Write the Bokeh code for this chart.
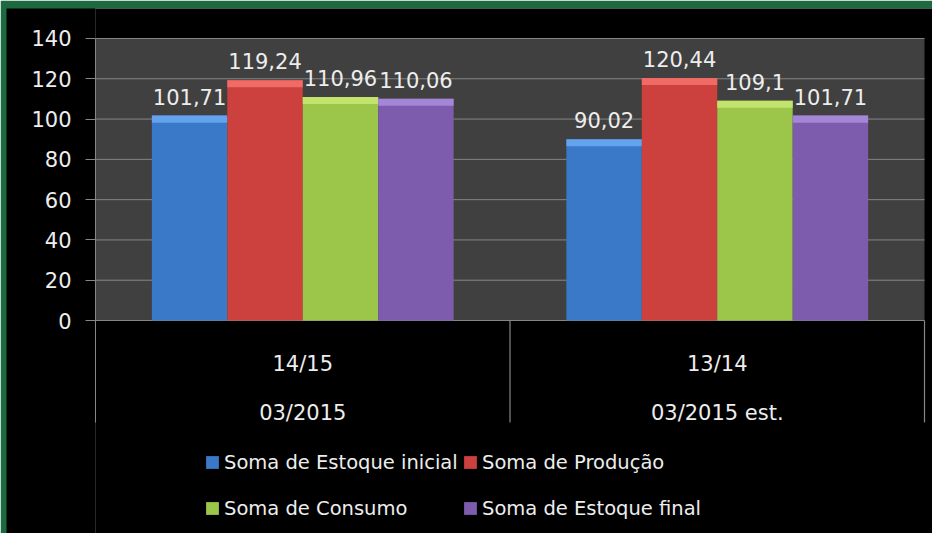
import numpy as np
from bokeh.plotting import figure
from bokeh.models import Range1d, FixedTicker, BoxAnnotation, ColumnDataSource, Legend, LegendItem
from bokeh.core.properties import value
from bokeh.embed import file_html
from bokeh.resources import INLINE

# ---- data ----
periods = ["14/15", "13/14"]
dates = ["03/2015", "03/2015 est."]
series_names = ["Soma de Estoque inicial", "Soma de Produção", "Soma de Consumo", "Soma de Estoque final"]
estoque_inicial = [101.71, 90.02]
producao = [119.24, 120.44]
consumo = [110.96, 109.1]
estoque_final = [110.06, 101.71]
y_ticks = [0, 20, 40, 60, 80, 100, 120, 140]

series_values = [estoque_inicial, producao, consumo, estoque_final]
colors = ["#3A78C8", "#CC403D", "#9CC64A", "#7D5CAD"]
highlights = ["#64A2EE", "#F06A66", "#C2E46E", "#A486D6"]

FONT = "DejaVu Sans"
TEXT = "#EDEDED"
LINE = "#878787"
GREEN = "#1E6A40"
AXIS_BOTTOM = -50.6   # where the category separators / axis line end
BEVEL = 3.5           # height of the lighter top band (data units)


def fmt(v):
    return f"{v:g}".replace(".", ",")


p = figure(width=932, height=533, output_backend="svg", toolbar_location=None, title=None,
           x_range=Range1d(0, 2.0193), y_range=Range1d(-105.74, 154.89),
           x_axis_location=None,
           min_border_left=95, min_border_right=0, min_border_top=8, min_border_bottom=0,
           background_fill_color="black", border_fill_color=GREEN, outline_line_color=None)

# gray plot area
p.add_layout(BoxAnnotation(left=0, right=len(periods), bottom=0, top=y_ticks[-1],
                           fill_color="#404040", fill_alpha=1.0, line_color=None, level="image"))

ticker = FixedTicker(ticks=y_ticks)
ax = p.yaxis[0]
ax.ticker = ticker
ax.bounds = (AXIS_BOTTOM, y_ticks[-1])
ax.background_fill_color = "black"
ax.axis_line_color = LINE
ax.major_tick_line_color = LINE
ax.major_tick_out = 10
ax.major_tick_in = 0
ax.minor_tick_line_color = None
ax.major_label_text_font = FONT
ax.major_label_text_font_size = "21px"
ax.major_label_text_color = TEXT
ax.major_label_standoff = 14
ax.axis_label = "\u00a0"
ax.axis_label_text_font_size = "12px"
ax.axis_label_standoff = 5
ax.axis_label_text_color = "black"
p.ygrid.grid_line_color = None
p.xgrid.grid_line_color = None

# horizontal gridlines over the gray area
p.segment(x0=[0] * len(y_ticks), x1=[len(periods)] * len(y_ticks), y0=y_ticks, y1=y_ticks,
          line_color="#858585", line_width=1)

n = len(series_values)
bar_w = 0.182
centers = np.arange(len(periods)) + 0.5

renderers = []
for i, (name, vals, c, hc) in enumerate(zip(series_names, series_values, colors, highlights)):
    x = centers + (i - (n - 1) / 2) * bar_w
    top = np.array(vals)
    src = ColumnDataSource(dict(x=x, top=top, band=top - BEVEL, label=[fmt(v) for v in vals]))
    r = p.vbar(x="x", top="top", bottom=0, width=bar_w, source=src,
               fill_color=c, line_color=None)
    p.vbar(x="x", top="top", bottom="band", width=bar_w, source=src,
           fill_color=hc, line_color=None)
    renderers.append(r)
    p.text(x="x", y="top", text="label", source=src, text_align="center",
           text_baseline="alphabetic", y_offset=-19, text_font=value(FONT),
           text_font_size="21px", text_color=TEXT)

# category axis (two levels)
zeros = [0] * len(periods)
p.text(x=centers, y=zeros, text=periods, y_offset=43, text_align="center",
       text_baseline="alphabetic", text_font=value(FONT), text_font_size="21px", text_color=TEXT)
p.text(x=centers, y=zeros, text=dates, y_offset=92, text_align="center",
       text_baseline="alphabetic", text_font=value(FONT), text_font_size="21px", text_color=TEXT)

bounds = np.arange(1, len(periods) + 1)
p.segment(x0=bounds, y0=[0] * len(bounds), x1=bounds, y1=[AXIS_BOTTOM] * len(bounds),
          line_color=LINE, line_width=1.2)

# legend: 2 x 2 grid
legend_pos = [(109, 59.5), (367, 59.5), (109, 13.5), (367, 13.5)]
for name, r, loc in zip(series_names, renderers, legend_pos):
    lg = Legend(items=[LegendItem(label=name, renderers=[r])], location=loc,
                padding=0, margin=0, spacing=0, border_line_color=None,
                background_fill_alpha=0, glyph_width=16, glyph_height=16,
                label_standoff=4, label_text_font=FONT, label_text_font_size="19.5px",
                label_text_color=TEXT)
    p.add_layout(lg, "center")

html = file_html(p, INLINE, title="Estoques")
open("out.html", "w").write(html)
